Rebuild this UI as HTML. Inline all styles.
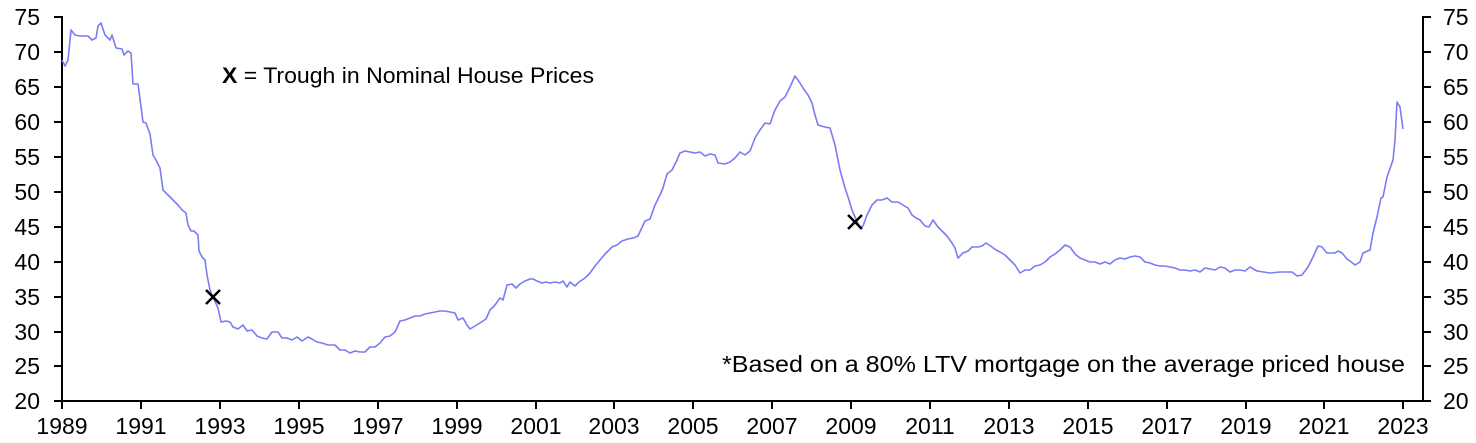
<!DOCTYPE html>
<html><head><style>
body{margin:0;background:#fff;}
svg{display:block;font-family:"Liberation Sans",Arial,sans-serif;}
</style></head><body>
<svg width="1476" height="443" viewBox="0 0 1476 443">
<g stroke="#000" stroke-width="2" fill="none">
<line x1="62" y1="16" x2="62" y2="402"/>
<line x1="1423" y1="16" x2="1423" y2="402"/>
<line x1="62" y1="401" x2="1423" y2="401"/>
<path d="M54 17H62M54 52H62M54 87H62M54 122H62M54 157H62M54 192H62M54 227H62M54 262H62M54 297H62M54 332H62M54 366H62M54 401H62"/>
<path d="M1423 17H1431M1423 52H1431M1423 87H1431M1423 122H1431M1423 157H1431M1423 192H1431M1423 227H1431M1423 262H1431M1423 297H1431M1423 332H1431M1423 366H1431M1423 401H1431"/>
<path d="M62 401V409M141 401V409M220 401V409M299 401V409M378 401V409M457 401V409M536 401V409M614 401V409M693 401V409M772 401V409M851 401V409M930 401V409M1009 401V409M1088 401V409M1167 401V409M1246 401V409M1324 401V409M1403 401V409"/>
</g>
<g font-size="23" fill="#000" text-anchor="end">
<text x="40" y="25">75</text><text x="40" y="60">70</text><text x="40" y="95">65</text><text x="40" y="130">60</text><text x="40" y="165">55</text><text x="40" y="200">50</text><text x="40" y="235">45</text><text x="40" y="270">40</text><text x="40" y="305">35</text><text x="40" y="340">30</text><text x="40" y="374">25</text><text x="40" y="409">20</text>
</g>
<g font-size="23" fill="#000" text-anchor="start">
<text x="1443" y="25">75</text><text x="1443" y="60">70</text><text x="1443" y="95">65</text><text x="1443" y="130">60</text><text x="1443" y="165">55</text><text x="1443" y="200">50</text><text x="1443" y="235">45</text><text x="1443" y="270">40</text><text x="1443" y="305">35</text><text x="1443" y="340">30</text><text x="1443" y="374">25</text><text x="1443" y="409">20</text>
</g>
<g font-size="23" fill="#000" text-anchor="middle">
<text x="62" y="434">1989</text><text x="141" y="434">1991</text><text x="220" y="434">1993</text><text x="299" y="434">1995</text><text x="378" y="434">1997</text><text x="457" y="434">1999</text><text x="536" y="434">2001</text><text x="614" y="434">2003</text><text x="693" y="434">2005</text><text x="772" y="434">2007</text><text x="851" y="434">2009</text><text x="930" y="434">2011</text><text x="1009" y="434">2013</text><text x="1088" y="434">2015</text><text x="1167" y="434">2017</text><text x="1246" y="434">2019</text><text x="1324" y="434">2021</text><text x="1403" y="434">2023</text>
</g>
<polyline fill="none" stroke="#7b7bf5" stroke-width="1.6" stroke-linejoin="round" points="62,60 65,66 68,60 71,30 75,35 80,36 88,36 92,40 96,38 98,26 101,23 105,35 110,40 112,35 116,48 122,49 124,55 128,51 131,53 133,84 138,84 143,122 146,123 150,134 153,155 156,160 160,168 163,190 168,195 173,200 178,205 182,210 186,213 188,225 191,231 194,231 198,235 199,251 202,257 205,260 207,275 210,290 213,297 218,308 221,322 226,321 230,322 233,327 238,329 243,325 247,331 252,330 257,336 262,338 267,339 272,332 278,332 282,338 287,338 292,340 297,337 302,341 308,337 312,339 317,342 322,343 328,345 335,345 340,350 345,350 350,353 355,351 360,352 365,352 370,347 375,347 380,343 385,337 390,336 395,332 400,321 405,320 410,318 415,316 420,316 425,314 430,313 435,312 440,311 445,311 450,312 455,313 458,320 463,318 467,325 470,329 475,326 480,323 486,319 490,310 495,305 500,298 503,300 507,285 512,284 516,288 520,284 525,281 530,279 533,279 537,281 542,283 546,282 550,283 555,282 560,283 563,281 567,287 570,282 575,286 579,282 585,278 590,273 595,266 600,260 606,253 612,247 617,245 622,241 628,239 633,238 638,236 645,221 650,219 655,205 660,195 663,188 667,174 672,170 677,160 680,153 685,151 690,152 695,153 700,152 705,156 710,154 715,155 718,163 725,164 730,162 735,158 740,152 745,155 750,151 755,138 760,130 765,123 770,124 775,110 780,101 785,97 790,87 795,76 798,80 803,88 808,95 812,103 815,115 818,125 825,127 830,128 835,145 840,170 845,188 849,200 852,210 855,217 860,228 863,226 867,215 872,205 877,200 882,200 887,198 892,202 898,202 903,205 908,208 912,215 916,218 920,220 925,226 929,227 933,220 938,227 942,231 947,236 952,243 955,248 958,258 963,253 968,251 972,247 978,247 982,246 986,243 992,247 996,250 1000,252 1005,255 1010,260 1015,265 1020,273 1025,270 1030,270 1035,266 1040,265 1045,262 1050,257 1055,254 1060,250 1065,245 1070,247 1075,254 1080,258 1085,260 1090,262 1095,262 1100,264 1105,262 1110,264 1115,260 1120,258 1125,259 1130,257 1135,256 1140,257 1145,262 1150,263 1155,265 1160,266 1165,266 1170,267 1175,268 1180,270 1185,270 1190,271 1195,270 1200,272 1205,268 1210,269 1215,270 1220,267 1225,268 1230,272 1235,270 1240,270 1245,271 1250,267 1257,271 1270,273 1280,272 1292,272 1297,276 1302,275 1308,267 1313,257 1318,246 1322,247 1327,253 1335,253 1338,251 1342,253 1347,259 1350,261 1355,265 1360,262 1363,253 1370,250 1373,233 1377,217 1381,198 1383,197 1387,177 1393,160 1395,140 1397,102 1400,107 1403,129"/>
<g stroke="#000" stroke-width="2.5">
<path d="M206 290L220 304M220 290L206 304"/>
<path d="M848 215L862 229M862 215L848 229"/>
</g>
<text x="222" y="83" font-size="22" fill="#000" textLength="372" lengthAdjust="spacingAndGlyphs"><tspan font-weight="bold">X</tspan> = Trough in Nominal House Prices</text>
<text x="722" y="372" font-size="23" fill="#000" textLength="683" lengthAdjust="spacingAndGlyphs">*Based on a 80% LTV mortgage on the average priced house</text>
</svg>
</body></html>
